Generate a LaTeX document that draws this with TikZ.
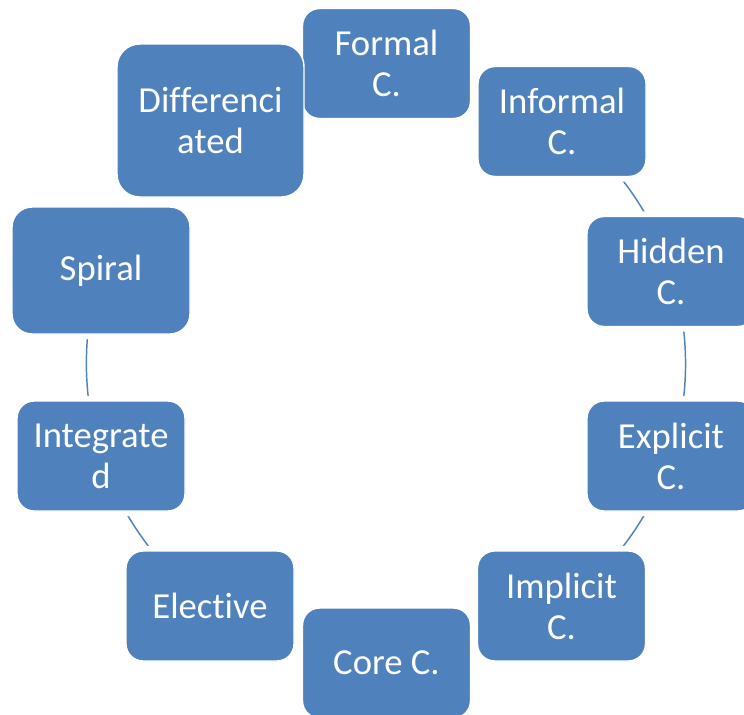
\documentclass[tikz,border=0pt]{standalone}
\usepackage{fontspec}
\setmainfont[Ligatures=NoCommon]{Carlito}
\usetikzlibrary{backgrounds}
\pgfdeclarelayer{halo}
\pgfsetlayers{background,halo,main}
\definecolor{accent}{RGB}{79,129,189}
\begin{document}
\begin{tikzpicture}[x=0.75pt,y=-0.75pt,
  box/.style={rectangle, rounded corners=12.75pt, fill=accent, draw=white,
    line width=1.1pt, text=white, align=center, inner sep=0pt,
    minimum width=126pt, minimum height=82.5pt,
    font=\fontsize{27.5}{30.75}\selectfont},
  halo/.style={draw=white, line width=6.5pt, rounded corners=12.75pt},
  link/.style={draw=accent, line width=1.1pt, bend left=18, looseness=0.873}]
\useasboundingbox (0,0) rectangle (744,715);
\clip (0,0) rectangle (744,715);
\node[box] (formal) at (386.5,63.5) {Formal\\C.};
\node[box] (informal) at (562,121.5) {Informal\\C.};
\node[box] (hidden) at (671,271.5) {Hidden\\C.};
\node[box] (explicit) at (671,456) {Explicit\\C.};
\node[box] (implicit) at (561.5,606) {Implicit\\C.};
\node[box] (core) at (386.5,663) {Core C.};
\node[box] (elective) at (210,606) {Elective};
\node[box] (integrated) at (101,456) {Integrate\\d};
\node[box, minimum width=133.5pt, minimum height=95.25pt, rounded corners=15pt] (spiral) at (101,270.5) {Spiral};
\node[box, minimum width=140.25pt, minimum height=114.75pt, rounded corners=17pt] (diff) at (210.5,120.5) {Differenci\\ated};
\begin{pgfonlayer}{halo}
\foreach \n in {formal,informal,hidden,explicit,implicit,core,elective,integrated,spiral,diff}
  \draw[halo] (\n.south west) rectangle (\n.north east);
\end{pgfonlayer}
\begin{pgfonlayer}{background}
\draw[link] (formal.center) to (informal.center);
\draw[link] (informal.center) to (hidden.center);
\draw[link] (hidden.center) to (explicit.center);
\draw[link] (explicit.center) to (implicit.center);
\draw[link] (implicit.center) to (core.center);
\draw[link] (core.center) to (elective.center);
\draw[link] (elective.center) to (integrated.center);
\draw[link] (integrated.center) to (spiral.center);
\draw[link] (spiral.center) to (diff.center);
\draw[link] (diff.center) to (formal.center);
\end{pgfonlayer}
\end{tikzpicture}
\end{document}
